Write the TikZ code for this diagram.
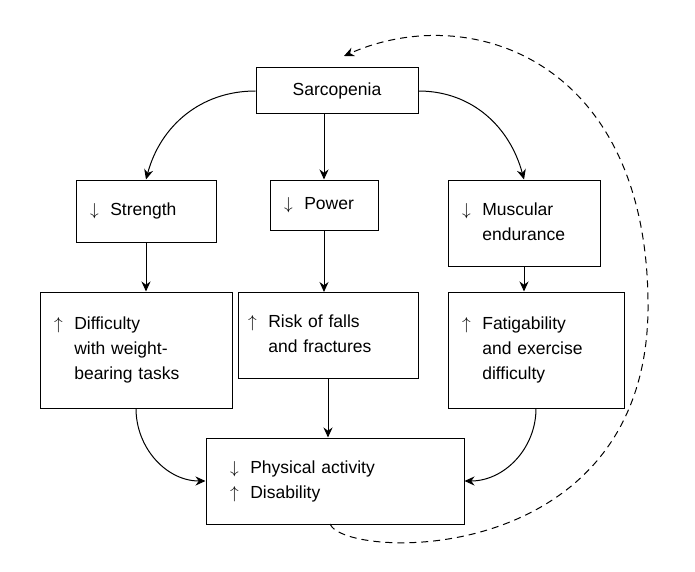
\documentclass[tikz,border=0pt]{standalone}
\usepackage{fontspec}
\setmainfont{Liberation Sans}
\usetikzlibrary{arrows.meta}
\begin{document}
\begin{tikzpicture}[x=1pt,y=-1pt,
 box/.style={draw,line width=1pt,align=left,inner xsep=14pt,font=\fontsize{17.5}{25}\selectfont},
 arr/.style={-{Stealth[length=10pt,width=9pt]},line width=1pt}]
\useasboundingbox (0,0) rectangle (695,572);
\node[box,minimum width=162pt,minimum height=46pt] (s) at (337,91) {Sarcopenia};
\node[box,minimum width=140pt,minimum height=62pt,text width=112pt] (st) at (146,211) {$\downarrow$\,\, Strength};
\node[box,minimum width=108pt,minimum height=50pt,text width=80pt] (p) at (324,205) {$\downarrow$\,\, Power};
\node[box,minimum width=152pt,minimum height=86pt,text width=124pt] (e) at (524,223) {$\downarrow$\,\, Muscular\\\phantom{$\downarrow$\,\,} endurance};
\node[box,minimum width=192pt,minimum height=116pt,text width=164pt] (d) at (136,350) {$\uparrow$\,\, Difficulty\\\phantom{$\uparrow$\,\,} with weight-\\\phantom{$\uparrow$\,\,} bearing tasks};
\node[box,minimum width=180pt,minimum height=86pt,text width=160pt,inner xsep=10pt,anchor=north] (r) at (328,292) {$\uparrow$\,\, Risk of falls\\\phantom{$\uparrow$\,\,} and fractures};
\node[box,minimum width=176pt,minimum height=116pt,text width=148pt] (f) at (536,350) {$\uparrow$\,\, Fatigability\\\phantom{$\uparrow$\,\,} and exercise\\\phantom{$\uparrow$\,\,} difficulty};
\node[box,minimum width=258pt,minimum height=86pt,text width=210pt,inner xsep=24pt] (a) at (335,481) {$\downarrow$\,\, Physical activity\\$\uparrow$\,\, Disability};
\draw[arr] (s.west) to[out=180,in=75] (st.north);
\draw[arr] (s.south -| p.north) -- (p.north);
\draw[arr] (s.east) to[out=0,in=105] (e.north);
\draw[arr] (st.south) -- (st.south |- d.north);
\draw[arr] (p.south) -- (p.south |- r.north);
\draw[arr] (e.south) -- (e.south |- f.north);
\draw[arr] (r.south) -- (r.south |- a.north);
\draw[arr] (d.south) to[out=-90,in=180] (a.west);
\draw[arr] (f.south) to[out=-90,in=0] (a.east);
\coordinate (ds) at (330,524);
\coordinate (dt) at (344,56);
\draw[arr,dash pattern=on 7pt off 5pt] (ds) .. controls (345,560) and (645,570) .. (648,310) .. controls (650,60) and (470,0) .. (dt);
\end{tikzpicture}
\end{document}
